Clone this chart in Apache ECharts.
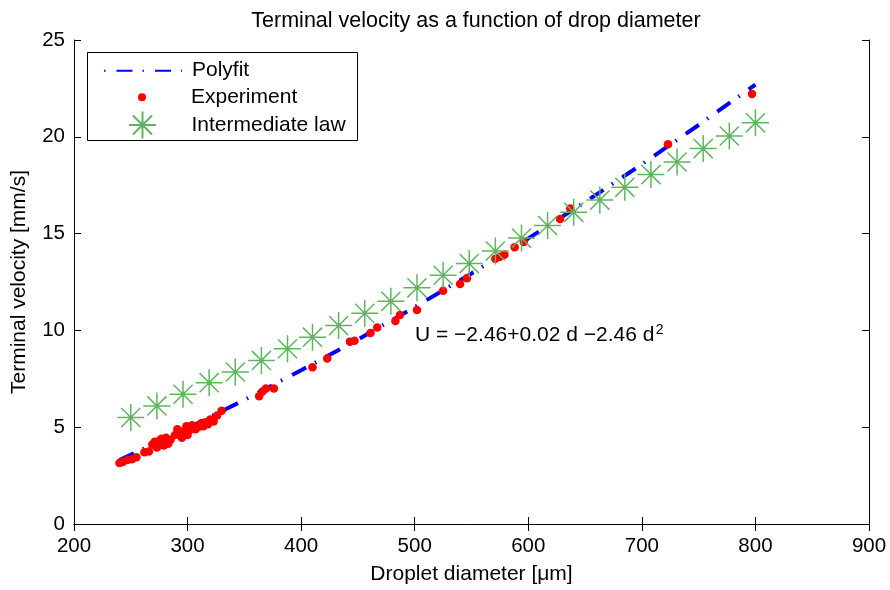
<!DOCTYPE html>
<html>
<head>
<meta charset="utf-8">
<script src="https://cdn.jsdelivr.net/npm/echarts@6/dist/echarts.min.js"></script>
<style>html,body{margin:0;padding:0;background:#fff}#c{width:890px;height:590px}</style>
</head>
<body>
<div id="c"></div>
<script>
// ---- data ----
const xTicks = [200, 300, 400, 500, 600, 700, 800, 900];
const yTicks = [0, 5, 10, 15, 20, 25];

const polyD = [240, 300, 350, 400, 450, 500, 550, 600, 650, 700, 750, 800];
const polyU = [3.3, 4.95, 6.41, 7.94, 9.53, 11.2, 12.94, 14.75, 16.63, 18.58, 20.61, 22.7];

const expD = [240, 243, 247, 251, 255, 262, 266, 269, 271, 273, 275, 277, 279, 281, 283, 285, 289, 291, 293, 295, 297, 299, 300, 302, 304, 307, 309, 312, 314, 316, 318, 320, 323, 326, 330,
              363, 366, 369, 376, 410, 423, 443, 447, 461, 467, 483, 487, 502, 525, 540, 546, 571, 575, 579, 588, 596, 628, 637, 723, 797];
const expU = [3.15, 3.2, 3.3, 3.35, 3.45, 3.7, 3.75, 4.1, 4.25, 3.95, 4.3, 4.4, 4.05, 4.45, 4.15, 4.35, 4.6, 4.9, 4.65, 4.45, 4.8, 5.05, 4.6, 4.85, 5.1, 4.9, 5.0, 5.2, 5.05, 5.25, 5.15, 5.4, 5.3, 5.6, 5.85,
              6.6, 6.85, 7.0, 7.0, 8.1, 8.55, 9.42, 9.46, 9.86, 10.15, 10.49, 10.8, 11.05, 12.05, 12.4, 12.7, 13.7, 13.8, 13.91, 14.3, 14.56, 15.76, 16.3, 19.61, 22.21];

const lawD = [250, 273, 296, 319, 342, 365, 388, 410, 433, 456, 479, 502, 525, 548, 571, 594, 617, 640, 663, 685, 708, 731, 754, 777, 800];
const lawU = [5.5, 6.1, 6.7, 7.3, 7.85, 8.45, 9.05, 9.65, 10.25, 10.88, 11.5, 12.2, 12.85, 13.45, 14.1, 14.77, 15.42, 16.1, 16.73, 17.39, 18.05, 18.7, 19.39, 20.04, 20.72];

const seriesNames = ['Polyfit', 'Experiment', 'Intermediate law'];
const titleText = 'Terminal velocity as a function of drop diameter';
const xName = 'Droplet diameter [\u03bcm]';
const yName = 'Terminal velocity [mm/s]';
const eqMain = 'U = \u22122.46+0.02 d \u22122.46 d';
const eqSup = '2';

// ---- chart ----
const FONT = '"Liberation Sans", Arial, Helvetica, sans-serif';
const FS = 21;
const TFS = 20.5;
const zip = (a, b) => a.map((v, i) => [v, b[i]]);
const starPath = 'path://M0,-1L0,1M-1,0L1,0M-0.707,-0.707L0.707,0.707M-0.707,0.707L0.707,-0.707';
const green = '#5fb55f';

function textWidth(txt, font) {
  const c = document.createElement('canvas').getContext('2d');
  c.font = font;
  return c.measureText(txt).width;
}
const eqFont = FS + 'px ' + FONT;
const eqLeft = 415;
const eqW = textWidth(eqMain, eqFont);

const chart = echarts.init(document.getElementById('c'), null, {renderer: 'canvas'});

const baseAxis = {
  axisLine: {show: true, lineStyle: {color: '#000', width: 1}},
  axisTick: {show: true, inside: true, length: 7, lineStyle: {color: '#000'}},
  splitLine: {show: false},
};

const legendCommon = {
  orient: 'horizontal', padding: 0, itemWidth: 78,
  textStyle: {fontFamily: FONT, fontSize: FS, color: '#000', lineHeight: 21, padding: [0, 0, 0, 5]},
  selectedMode: false, inactiveColor: '#000'
};

chart.setOption({
  animation: false,
  backgroundColor: '#fff',
  textStyle: {fontFamily: FONT},
  title: {
    text: titleText, left: 471, textAlign: 'center', top: 5,
    textStyle: {fontFamily: FONT, fontSize: 21.5, fontWeight: 'normal', color: '#000'}
  },
  grid: {left: 74, right: 21, top: 40, bottom: 63, containLabel: false},
  xAxis: [
    Object.assign({}, baseAxis, {
      type: 'value', min: xTicks[0], max: xTicks[xTicks.length - 1], interval: 100, position: 'bottom',
      name: xName, nameLocation: 'middle', nameGap: 40,
      nameTextStyle: {fontFamily: FONT, fontSize: FS, color: '#000'},
      axisLabel: {fontFamily: FONT, fontSize: TFS, color: '#000', margin: 12}
    }),
    Object.assign({}, baseAxis, {
      type: 'value', min: xTicks[0], max: xTicks[xTicks.length - 1], interval: 100, position: 'top',
      axisLabel: {show: false}
    })
  ],
  yAxis: [
    Object.assign({}, baseAxis, {
      type: 'value', min: yTicks[0], max: yTicks[yTicks.length - 1], interval: 5, position: 'left',
      name: yName, nameLocation: 'middle', nameGap: 44,
      nameTextStyle: {fontFamily: FONT, fontSize: FS, color: '#000'},
      axisLabel: {fontFamily: FONT, fontSize: TFS, color: '#000', margin: 9}
    }),
    Object.assign({}, baseAxis, {
      type: 'value', min: yTicks[0], max: yTicks[yTicks.length - 1], interval: 5, position: 'right',
      axisLabel: {show: false}
    })
  ],
  legend: [
    Object.assign({}, legendCommon, {data: [seriesNames[0]], left: 103, top: 60.2, itemHeight: 14,
      itemStyle: {opacity: 0}, lineStyle: {dashOffset: 26}}),
    Object.assign({}, legendCommon, {data: [seriesNames[1]], left: 138, top: 86.8, itemHeight: 8}),
    Object.assign({}, legendCommon, {data: [seriesNames[2]], left: 128, top: 110.5, itemHeight: 27})
  ],
  graphic: [
    {type: 'rect', left: 87, top: 52, z: 0, silent: true,
     shape: {width: 270, height: 88}, style: {fill: '#fff', stroke: '#000', lineWidth: 1}},
    {type: 'text', left: eqLeft, top: 325, z: 100, silent: true,
     style: {text: eqMain, font: eqFont, fill: '#000'}},
    {type: 'text', left: eqLeft + eqW + 1.5, top: 323, z: 100, silent: true,
     style: {text: eqSup, font: '14px ' + FONT, fill: '#000'}}
  ],
  series: [
    {
      name: seriesNames[0], type: 'line', data: zip(polyD, polyU),
      showSymbol: false, symbol: 'none', z: 2,
      lineStyle: {color: '#0000ff', width: 4, type: [16, 10, 1.5, 11], cap: 'butt'},
      itemStyle: {color: '#0000ff'}
    },
    {
      name: seriesNames[1], type: 'scatter', data: zip(expD, expU),
      symbol: 'circle', symbolSize: 8.5, z: 3,
      itemStyle: {color: '#ff0000', opacity: 1}
    },
    {
      name: seriesNames[2], type: 'scatter', data: zip(lawD, lawU),
      symbol: starPath, symbolSize: 27, symbolKeepAspect: true, z: 4,
      itemStyle: {color: 'rgba(0,0,0,0)', borderColor: green, borderWidth: 1.5, opacity: 1}
    }
  ]
});
</script>
</body>
</html>
